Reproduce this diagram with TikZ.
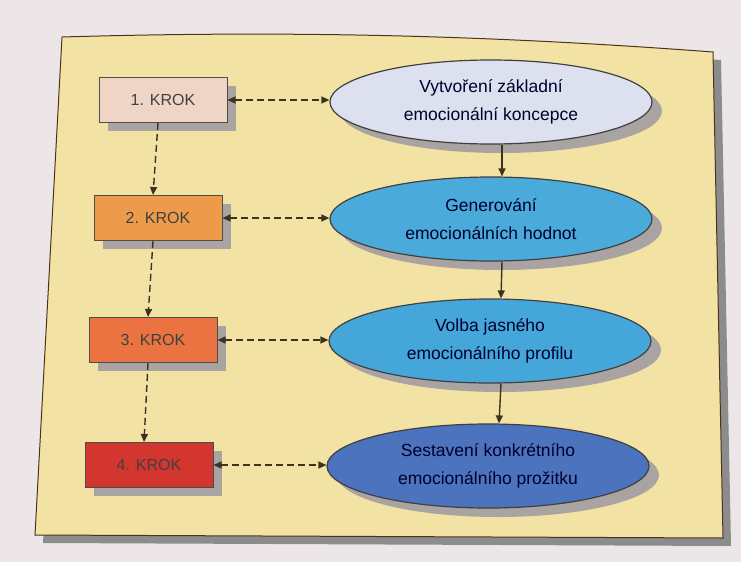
\documentclass[tikz,border=0pt]{standalone}
\usepackage{fontspec}
\setmainfont{Liberation Sans}
\usetikzlibrary{arrows.meta,shapes.geometric,shadows}

\definecolor{paper}{HTML}{EDE6E8}
\definecolor{panel}{HTML}{F2E3A4}
\definecolor{shade}{HTML}{A9A3A2}
\definecolor{arrowbrown}{HTML}{3B3322}
\definecolor{krokA}{HTML}{EFD5C5}
\definecolor{krokB}{HTML}{EC9B4A}
\definecolor{krokC}{HTML}{EA7341}
\definecolor{krokD}{HTML}{D3362F}
\definecolor{fazeA}{HTML}{DDE0EE}
\definecolor{fazeB}{HTML}{4AAAD9}
\definecolor{fazeC}{HTML}{45A6DA}
\definecolor{fazeD}{HTML}{4C73BE}

\begin{document}
\begin{tikzpicture}[x=1pt, y=-1pt, >={Triangle[length=8pt,width=7pt]},
    krok/.style={draw=black!70, line width=1pt, minimum width=128pt, minimum height=45pt,
        font=\fontsize{16}{19}\selectfont, text=black!75,
        general shadow={fill=shade, shadow xshift=9pt, shadow yshift=-8pt}},
    faze/.style={ellipse, draw=black!75, line width=1.2pt, minimum width=322pt, minimum height=84pt,
        inner sep=0pt, align=center, font=\fontsize{17.5}{28}\selectfont, text=black!75!blue!70!black,
        general shadow={fill=shade, shadow xshift=10pt, shadow yshift=-9pt}},
    link/.style={<->, dash pattern=on 7pt off 4pt, line width=1.4pt, draw=arrowbrown},
    flow/.style={->, line width=1.4pt, draw=arrowbrown}]
    \useasboundingbox [fill=paper] (0,0) rectangle (741,562);

    % Panel
    \fill [black!45] (70,45) .. controls (300,40) and (500,45) .. (721,60)
        -- (731,546) -- (43,543) -- cycle;
    \draw [fill=panel, draw=black!60!brown, line width=1pt] (62,37) .. controls (300,30) and (500,36) .. (713,52)
        -- (723,538) -- (35,535) -- cycle;

    % Steps on the left
    \node [krok, fill=krokA] (k1) at (163,100) {1. KROK};
    \node [krok, fill=krokB] (k2) at (158,218) {2. KROK};
    \node [krok, fill=krokC] (k3) at (153,340) {3. KROK};
    \node [krok, fill=krokD] (k4) at (149,465) {4. KROK};

    % Phases on the right
    \node [faze, fill=fazeA] (f1) at (491,102) {Vytvoření základní\\emocionální koncepce};
    \node [faze, fill=fazeB] (f2) at (491,219) {Generování\\emocionálních hodnot};
    \node [faze, fill=fazeC] (f3) at (490,341) {Volba jasného\\emocionálního profilu};
    \node [faze, fill=fazeD] (f4) at (488,466) {Sestavení konkrétního\\emocionálního prožitku};

    \foreach \i in {1,2,3,4}
        \draw [link] (k\i.east) -- (k\i.east -| f\i.west);

    \foreach \i/\j in {1/2,2/3,3/4} {
        \draw [flow, dash pattern=on 7pt off 4pt] ([xshift=-5pt]k\i.south) -- ([xshift=-5pt]k\j.north);
        \draw [flow] ([xshift=11pt]f\i.south) -- ([xshift=11pt]f\j.north);
    }
\end{tikzpicture}
\end{document}
